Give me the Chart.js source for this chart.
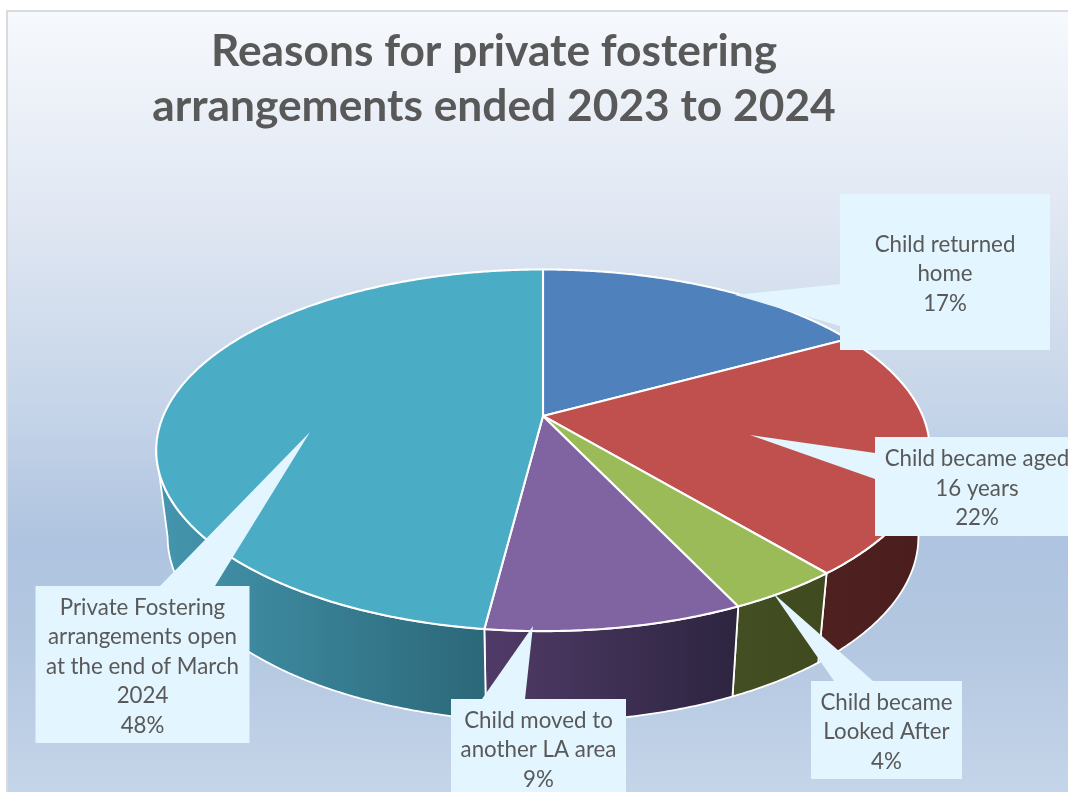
<!DOCTYPE html>
<html>
<head>
<meta charset="utf-8">
<style>
  html, body { margin: 0; padding: 0; background: #fff; }
  #stage { position: relative; width: 1068px; height: 792px; overflow: hidden; }
  #panel {
    position: absolute; left: 6px; top: 10px; right: -4px; bottom: -4px;
    border: 2px solid #DADADA; box-sizing: border-box;
    background: linear-gradient(180deg, #F6F9FD 0%, #E1E8F3 25%, #C6D5E9 50%, #AFC4E0 68%, #B3C7E1 80%, #C5D5E9 100%);
  }
  canvas { position: absolute; left: 0; top: 0; }
</style>
</head>
<body>
<div id="stage">
  <div id="panel"></div>
  <canvas id="chart" width="1068" height="792"></canvas>
</div>
<script src="https://cdn.jsdelivr.net/npm/chart.js@4"></script>
<script>
const categories = [
  ['Child returned', 'home'],
  ['Child became aged', '16 years'],
  ['Child became', 'Looked After'],
  ['Child moved to', 'another LA area'],
  ['Private Fostering', 'arrangements open', 'at the end of March', '2024']
];
const shares = [17, 22, 4, 9, 48];
const titleLines = ['Reasons for private fostering', 'arrangements ended 2023 to 2024'];
const faceColors = ['#4F81BD', '#C0504D', '#9BBB59', '#8064A2', '#4BACC6'];
const wallShades = [
  ['#2B4668', '#2B4668'],
  ['#4F2020', '#4A1E1D'],
  ['#434E22', '#3F4A1F'],
  ['#503B68', '#2D2540'],
  ['#4496AE', '#2C6879']
];

// Perspective of the tilted disc: the near edge is drawn larger than the far one.
const TILT = {
  k: -0.19,
  topX: 1.525, topY: 0.70,
  baseX: 1.48, baseY: 0.715,
  baseDrop: 86
};

// Callout boxes and the pointer each one throws onto its slice.
const callouts = [
  { box: [840, 194, 210, 156], textX: 945, tip: [735, 295], base: [[840, 284], [840, 326]] },
  { box: [875, 437, 204, 99], textX: 977, tip: [750, 435], base: [[875, 453], [875, 479]] },
  { box: [811, 681, 151, 98], textX: 886.5, tip: [773, 593], base: [[834, 681], [873, 681]] },
  { box: [451, 699, 175, 98], textX: 538.5, tip: [533, 626], base: [[482, 699], [525, 699]] },
  { box: [35.5, 586, 214, 157], textX: 142.5, tip: [310, 432], base: [[160, 586], [215, 586]] }
];
const LABEL_FONT = '22.3px Lato, "Open Sans", sans-serif';
const LABEL_LINE = 29.5;
const LABEL_NUDGE = 2;

function project(el, angle, level) {
  const u = Math.cos(angle), v = Math.sin(angle);
  const d = 1 + TILT.k * v;
  const r = el.outerRadius;
  if (level === 'top') {
    return [el.x + r * TILT.topX * u / d, el.y + r * TILT.topY * v / d];
  }
  return [el.x + r * TILT.baseX * u / d, el.y + TILT.baseDrop + r * TILT.baseY * v / d];
}

function traceRim(ctx, el, from, to, level) {
  const steps = Math.max(2, Math.ceil(Math.abs(to - from) / 0.008));
  for (let i = 0; i <= steps; i++) {
    const p = project(el, from + (to - from) * i / steps, level);
    ctx.lineTo(p[0], p[1]);
  }
}

const tiltedPie = {
  id: 'tiltedPie',
  afterLayout(chart) {
    // The heading sits left of the pie's centre.
    chart.titleBlock.left -= 49;
    chart.titleBlock.right -= 49;
  },
  beforeDatasetsDraw(chart) {
    const ctx = chart.ctx;
    const arcs = chart.getDatasetMeta(0).data;
    const visFrom = Math.asin(-TILT.k);
    const visTo = Math.PI - visFrom;

    ctx.save();
    ctx.lineJoin = 'round';

    // Side wall, only where it faces the viewer.
    arcs.forEach((el, i) => {
      let a0 = Math.max(el.startAngle, visFrom);
      let a1 = Math.min(el.endAngle, visTo);
      if (a1 <= a0) return;
      const left = project(el, a1, 'top')[0];
      const right = project(el, a0, 'top')[0];
      const grad = ctx.createLinearGradient(left, 0, right, 0);
      grad.addColorStop(0, wallShades[i][0]);
      grad.addColorStop(1, wallShades[i][1]);
      ctx.beginPath();
      traceRim(ctx, el, a0, a1, 'top');
      traceRim(ctx, el, a1, a0, 'base');
      ctx.closePath();
      ctx.fillStyle = grad;
      ctx.fill();
      ctx.strokeStyle = '#FFFFFF';
      ctx.lineWidth = 1.8;
      ctx.stroke();
    });

    // Top face of each slice.
    arcs.forEach(el => {
      ctx.beginPath();
      ctx.moveTo(el.x, el.y);
      traceRim(ctx, el, el.startAngle, el.endAngle, 'top');
      ctx.closePath();
      ctx.fillStyle = el.options.backgroundColor;
      ctx.fill();
      ctx.strokeStyle = el.options.borderColor;
      ctx.lineWidth = el.options.borderWidth;
      ctx.stroke();
    });

    // Callouts with category and share.
    callouts.forEach((c, i) => {
      const [x, y, w, h] = c.box;
      ctx.fillStyle = '#E3F5FE';
      ctx.fillRect(x, y, w, h);
      ctx.beginPath();
      ctx.moveTo(c.tip[0], c.tip[1]);
      ctx.lineTo(c.base[0][0], c.base[0][1]);
      ctx.lineTo(c.base[1][0], c.base[1][1]);
      ctx.closePath();
      ctx.fill();

      const lines = categories[i].concat(shares[i] + '%');
      const firstY = y + h / 2 - (lines.length - 1) * LABEL_LINE / 2 + LABEL_NUDGE;
      ctx.font = LABEL_FONT;
      ctx.fillStyle = '#595959';
      ctx.textAlign = 'center';
      ctx.textBaseline = 'middle';
      lines.forEach((t, n) => ctx.fillText(t, c.textX, firstY + n * LABEL_LINE));
    });
    ctx.restore();
    return false;
  }
};

new Chart(document.getElementById('chart'), {
  type: 'pie',
  data: {
    labels: categories.map(c => c.join(' ')),
    datasets: [{
      data: shares,
      backgroundColor: faceColors,
      borderColor: '#FFFFFF',
      borderWidth: 2.1
    }]
  },
  options: {
    responsive: false,
    animation: false,
    layout: { padding: { left: 18, right: 0, top: 0, bottom: 126 } },
    plugins: {
      legend: { display: false },
      tooltip: { enabled: false },
      title: {
        display: true,
        text: titleLines,
        color: '#595959',
        font: { family: 'Lato, "Open Sans", sans-serif', size: 44.3, weight: 'bold', lineHeight: 1.24 },
        padding: { top: 24, bottom: 32 }
      }
    }
  },
  plugins: [tiltedPie]
});
</script>
</body>
</html>
